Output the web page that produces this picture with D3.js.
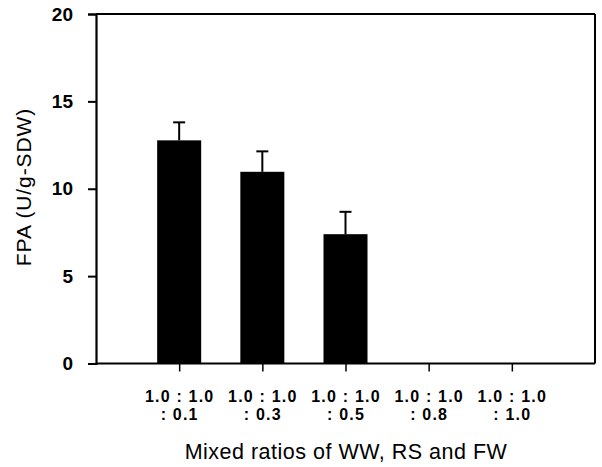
<!DOCTYPE html>
<html>
<head>
<meta charset="utf-8">
<script src="https://cdn.jsdelivr.net/npm/d3@7"></script>
<style>
  html, body { margin: 0; padding: 0; background: #fff; }
  svg { display: block; }
</style>
</head>
<body>
<svg id="chart" width="602" height="467"></svg>
<script>
const categoriesLine1 = ["1.0 : 1.0", "1.0 : 1.0", "1.0 : 1.0", "1.0 : 1.0", "1.0 : 1.0"];
const categoriesLine2 = [": 0.1", ": 0.3", ": 0.5", ": 0.8", ": 1.0"];
const categories = ["r0.1", "r0.3", "r0.5", "r0.8", "r1.0"];
const fpaValues = [12.77, 10.97, 7.4, 0, 0];
const fpaErrors = [1.03, 1.17, 1.28, 0, 0];
const yTicks = [0, 5, 10, 15, 20];
const xTitle = "Mixed ratios of WW, RS and FW";
const yTitle = "FPA (U/g-SDW)";

const svg = d3.select("#chart");
const pLeft = 96, pRight = 595, pTop = 14, pBottom = 363.5;
const FONT = "'Liberation Sans', Arial, Helvetica, sans-serif";

const x = d3.scalePoint().domain(categories).range([pLeft, pRight]).padding(1);
const y = d3.scaleLinear().domain([0, 20]).range([pBottom, pTop]);
const barW = 44;

// bars
svg.append("g").selectAll("rect").data(categories).join("rect")
  .attr("x", (d) => x(d) - barW / 2)
  .attr("y", (d, i) => y(fpaValues[i]))
  .attr("width", barW)
  .attr("height", (d, i) => y(0) - y(fpaValues[i]))
  .attr("fill", "#000");

// error bars
const eb = svg.append("g").attr("stroke", "#000").attr("stroke-width", 2);
categories.forEach((c, i) => {
  if (fpaValues[i] <= 0) return;
  const cx = x(c);
  eb.append("line").attr("x1", cx).attr("x2", cx)
    .attr("y1", y(fpaValues[i])).attr("y2", y(fpaValues[i] + fpaErrors[i]));
  eb.append("line").attr("x1", cx - 6).attr("x2", cx + 6)
    .attr("y1", y(fpaValues[i] + fpaErrors[i])).attr("y2", y(fpaValues[i] + fpaErrors[i]));
});

// frame top and right
svg.append("line").attr("x1", pLeft).attr("x2", pRight).attr("y1", pTop).attr("y2", pTop)
  .attr("stroke", "#000").attr("stroke-width", 2);
svg.append("line").attr("x1", pRight).attr("x2", pRight).attr("y1", pTop).attr("y2", pBottom)
  .attr("stroke", "#000").attr("stroke-width", 2);

// y axis
const yAxis = svg.append("g").attr("transform", `translate(${pLeft},0)`)
  .call(d3.axisLeft(y).tickValues(yTicks).tickSize(8).tickPadding(15).tickFormat(d3.format("d")));
yAxis.select(".domain").attr("stroke-width", 2.2);
yAxis.selectAll(".tick line").attr("stroke-width", 2);
yAxis.selectAll(".tick text")
  .attr("font-family", FONT)
  .attr("font-weight", "bold").attr("font-size", 19).attr("fill", "#000");

// x axis
const xAxis = svg.append("g").attr("transform", `translate(0,${pBottom})`)
  .call(d3.axisBottom(x).tickSize(8).tickFormat(""));
xAxis.select(".domain").attr("d", `M${pLeft},0H${pRight}`).attr("stroke-width", 2);
xAxis.selectAll(".tick line").attr("stroke-width", 1.5);

xAxis.selectAll(".tick").each(function (d, i) {
  const g = d3.select(this);
  [categoriesLine1[i], categoriesLine2[i]].forEach((s, k) => {
    g.append("text")
      .attr("font-family", FONT)
      .attr("font-weight", "bold").attr("font-size", 16)
      .attr("letter-spacing", 1.2)
      .attr("fill", "#000").attr("text-anchor", "middle")
      .attr("x", 0).attr("y", 38 + k * 18.8)
      .text(s);
  });
});

// titles
svg.append("text").attr("x", 346).attr("y", 459)
  .attr("text-anchor", "middle")
  .attr("font-family", FONT)
  .attr("font-size", 21.5).attr("letter-spacing", 0.5).attr("fill", "#000")
  .text(xTitle);

svg.append("text")
  .attr("transform", "translate(31,187) rotate(-90)")
  .attr("text-anchor", "middle")
  .attr("font-family", FONT)
  .attr("font-size", 21).attr("letter-spacing", 0.9).attr("fill", "#000")
  .text(yTitle);
</script>
</body>
</html>
